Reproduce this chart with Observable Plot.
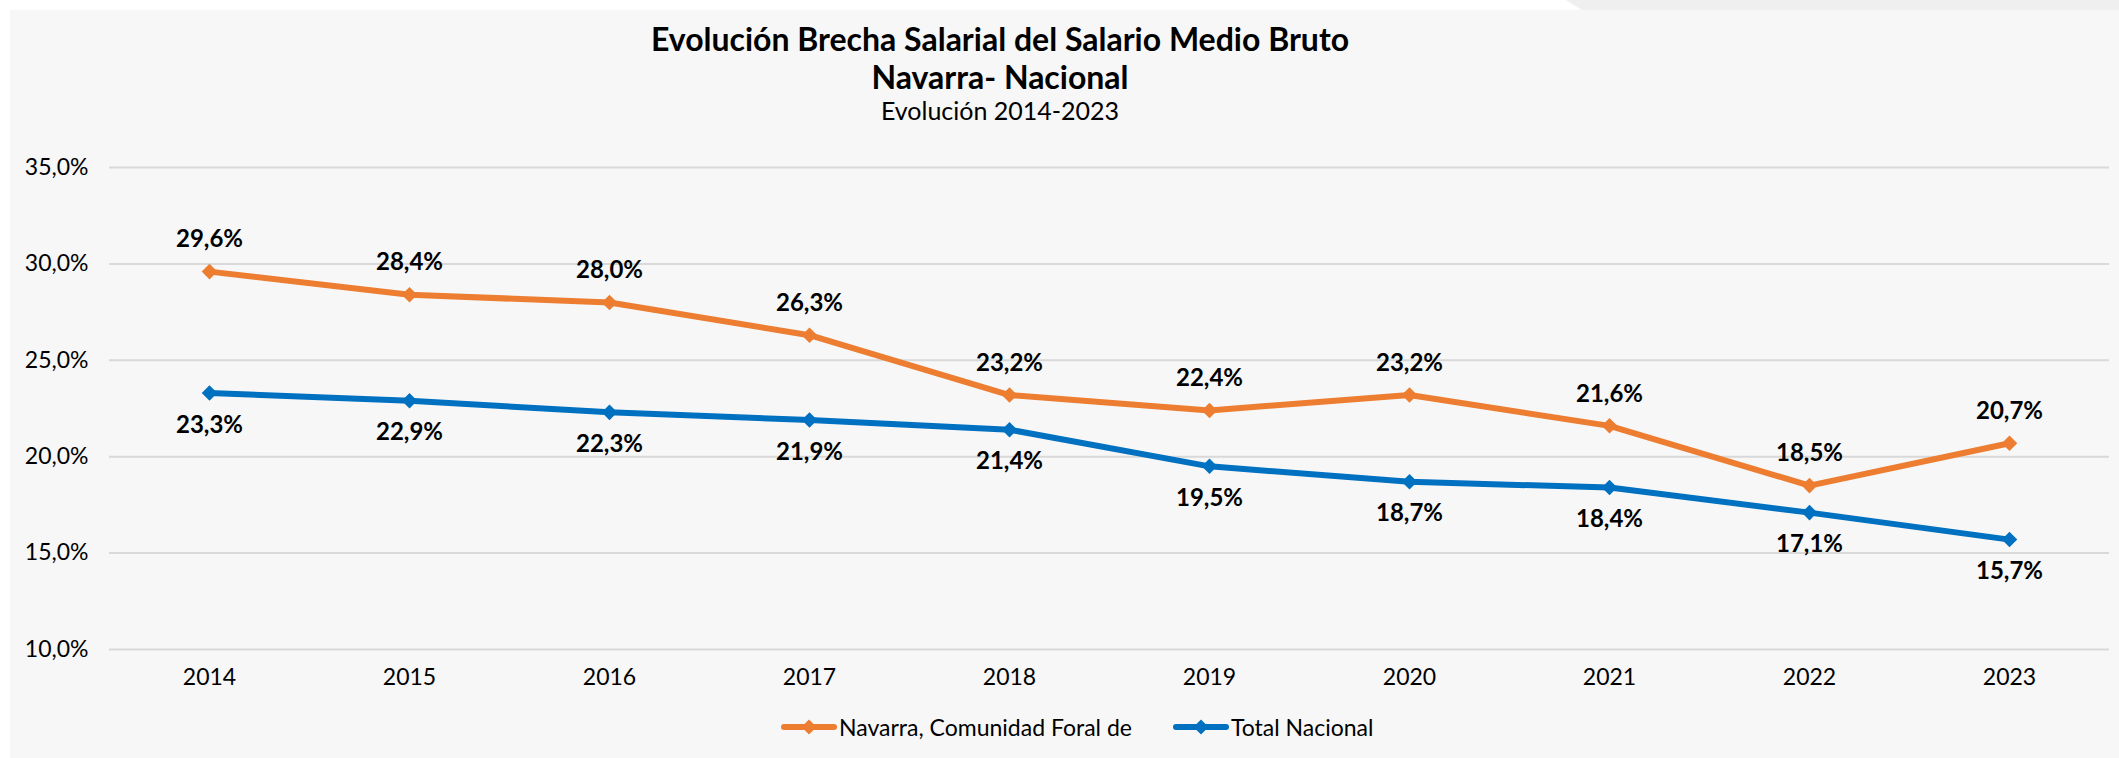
<!DOCTYPE html>
<html>
<head>
<meta charset="utf-8">
<script src="https://cdn.jsdelivr.net/npm/d3@7"></script>
<script src="https://cdn.jsdelivr.net/npm/@observablehq/plot@0.6"></script>
<style>
  html, body { margin: 0; padding: 0; background: #fff; }
  #wrap { position: relative; width: 2119px; height: 758px; overflow: hidden; font-family: Lato, "Open Sans", sans-serif; color: #000; }
  #bg { position: absolute; left: 10px; top: 10px; right: 0; bottom: 0; background: #f7f7f7; }
  #corner { position: absolute; left: 1566px; top: 0; right: 0; height: 10px; background: #efefef; clip-path: polygon(0 0, 100% 0, 100% 100%, 16px 100%); }
  .t { position: absolute; left: 0; width: 2000px; text-align: center; white-space: nowrap; line-height: 1; }
  #t1 { top: 23px; font-size: 32px; font-weight: 700; }
  #t2 { top: 61px; font-size: 32px; font-weight: 700; }
  #t3 { top: 98px; font-size: 25px; font-weight: 400; }
  #chart { position: absolute; left: 10px; top: 130px; }
  .leg { position: absolute; top: 714px; height: 26px; display: flex; align-items: center; font-size: 23px; line-height: 1; white-space: nowrap; }
  .leg svg { margin-right: 2px; }
</style>
</head>
<body>
<div id="wrap">
  <div id="bg"></div>
  <div id="corner"></div>
  <div class="t" id="t1">Evolución Brecha Salarial del Salario Medio Bruto</div>
  <div class="t" id="t2">Navarra- Nacional</div>
  <div class="t" id="t3">Evolución 2014-2023</div>
  <div id="chart"></div>
  <div id="legend"></div>
</div>
<script>
const years = ["2014", "2015", "2016", "2017", "2018", "2019", "2020", "2021", "2022", "2023"];
const navarra = [29.6, 28.4, 28.0, 26.3, 23.2, 22.4, 23.2, 21.6, 18.5, 20.7];
const nacional = [23.3, 22.9, 22.3, 21.9, 21.4, 19.5, 18.7, 18.4, 17.1, 15.7];
const seriesNames = ["Navarra, Comunidad Foral de", "Total Nacional"];
const seriesColors = ["#ED7D31", "#0070C0"];
const yTicks = [10, 15, 20, 25, 30, 35];

const fmt = v => v.toFixed(1).replace(".", ",") + "%";

const rowsNav = years.map((y, i) => ({year: y, value: navarra[i], serie: seriesNames[0]}));
const rowsNac = years.map((y, i) => ({year: y, value: nacional[i], serie: seriesNames[1]}));
const data = rowsNav.concat(rowsNac);

const chart = Plot.plot({
  width: 2109,
  height: 580,
  marginTop: 37,
  marginBottom: 61,
  marginLeft: 99,
  marginRight: 10,
  style: {background: "transparent", fontFamily: "Lato, 'Open Sans', sans-serif", color: "#000", overflow: "visible"},
  x: {type: "point", domain: years, padding: 0.5, label: null},
  y: {domain: [10, 35], label: null},
  color: {domain: seriesNames, range: seriesColors},
  marks: [
    Plot.gridY(yTicks, {stroke: "#d9d9d9", strokeOpacity: 1, strokeWidth: 2}),
    Plot.axisY(yTicks, {tickSize: 0, tickPadding: 21, tickFormat: fmt, fontSize: 23, label: null, fill: "#000"}),
    Plot.axisX({tickSize: 0, tickPadding: 19, fontSize: 23, label: null, fill: "#000"}),
    Plot.line(data, {x: "year", y: "value", z: "serie", stroke: "serie", strokeWidth: 6}),
    Plot.dot(data, {x: "year", y: "value", fill: "serie", symbol: "diamond2", r: 7}),
    Plot.text(rowsNav, {x: "year", y: "value", text: d => fmt(d.value), dy: -32, fontWeight: "bold", fontSize: 24, fill: "#000"}),
    Plot.text(rowsNac, {x: "year", y: "value", text: d => fmt(d.value), dy: 32, fontWeight: "bold", fontSize: 24, fill: "#000"})
  ]
});
document.getElementById("chart").appendChild(chart);

// legend
const legendPos = [781, 1173];
const legend = document.getElementById("legend");
seriesNames.forEach((name, i) => {
  const item = document.createElement("div");
  item.className = "leg";
  item.style.left = legendPos[i] + "px";
  const c = seriesColors[i];
  item.innerHTML = `<svg width="56" height="26" viewBox="0 0 56 26"><line x1="3" y1="13" x2="53" y2="13" stroke="${c}" stroke-width="6" stroke-linecap="round"/><path d="M28 5.5 L35.5 13 L28 20.5 L20.5 13 Z" fill="${c}"/></svg><span>${name}</span>`;
  legend.appendChild(item);
});
</script>
</body>
</html>
